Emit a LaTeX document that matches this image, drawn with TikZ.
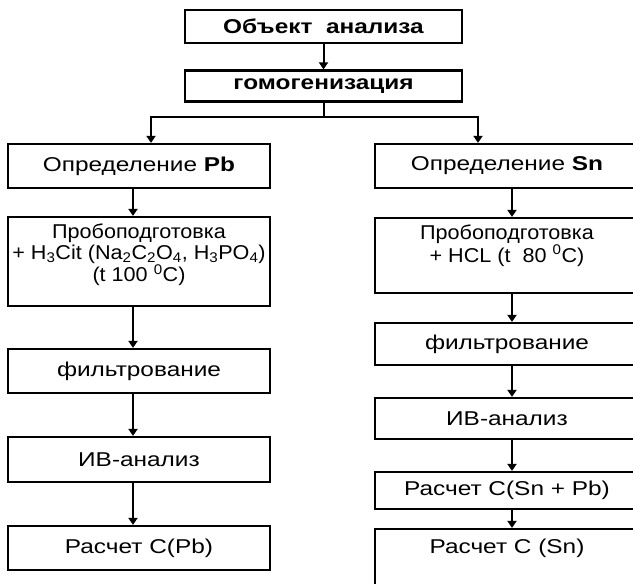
\documentclass[tikz,border=0pt]{standalone}
\usepackage{fontspec}
\setmainfont[FakeStretch=1.22]{Liberation Sans}
\newfontfamily\uzkij[FakeStretch=1.08]{Liberation Sans}
\usetikzlibrary{arrows.meta}

\begin{document}
\begin{tikzpicture}[x=1pt,y=-1pt]
\tikzset{blok/.style={draw, line width=2.2pt, rectangle, inner sep=0pt},
  tekst/.style={align=center, font=\fontsize{20}{20.5}\selectfont, inner sep=0pt},
  uzk/.style={font=\uzkij\fontsize{20}{20.5}\selectfont},
  zagl/.style={font=\fontsize{20}{22}\selectfont\bfseries},
  levo/.style={minimum width=262pt},
  pravo/.style={minimum width=264pt},
  strelka/.style={line width=2pt, -{Triangle[width=9pt,length=7pt]}}}
\useasboundingbox (0,0) rectangle (633,584);
\clip (0,0) rectangle (633,584);
\node[blok, tekst, zagl, minimum width=277pt, minimum height=33pt] (obj) at (323.5,26.5) {Объект\ \ анализа};
\node[blok, tekst, zagl, minimum width=277pt, minimum height=31pt] (hom) at (323.5,86) {гомогенизация};
\node[blok, tekst, levo, minimum height=44pt] (detPb) at (139,166) {Определение \textbf{Pb}};
\node[blok, levo, minimum height=89pt] (prepPb) at (139,261.5) {};
\node[tekst, uzk, anchor=north] (prepPbT) at ([yshift=-8pt]prepPb.north) {Пробоподготовка\\+ H\textsubscript{3}Cit (Na\textsubscript{2}C\textsubscript{2}O\textsubscript{4}, H\textsubscript{3}PO\textsubscript{4})\\(t 100 \textsuperscript{0}C)};
\node[blok, tekst, levo, minimum height=44pt] (filtPb) at (139,371) {фильтрование};
\node[blok, tekst, levo, minimum height=45pt] (ivPb) at (139,459.5) {ИВ-анализ};
\node[blok, tekst, levo, minimum height=44pt] (calcPb) at (139,548) {Расчет C(Pb)};
\node[blok, tekst, pravo, minimum height=44pt] (detSn) at (507,166) {Определение \textbf{Sn}};
\node[blok, pravo, minimum height=75pt] (prepSn) at (507,255.5) {};
\node[tekst, uzk, anchor=north] (prepSnT) at ([yshift=-8pt]prepSn.north) {Пробоподготовка\\+ HCL (t\ \ 80 \textsuperscript{0}C)};
\node[blok, tekst, pravo, minimum height=42pt] (filtSn) at (507,344) {фильтрование};
\node[blok, tekst, pravo, minimum height=41pt] (ivSn) at (507,418.5) {ИВ-анализ};
\node[blok, tekst, pravo, minimum height=37pt] (sumSn) at (507,490.5) {Расчет C(Sn + Pb)};
\node[blok, pravo, minimum height=71pt] (calcSn) at (507,564.5) {};
\node[tekst, anchor=north] (calcSnT) at ([yshift=-11pt]calcSn.north) {Расчет C (Sn)};
\draw[strelka] (obj) -- (hom);
\draw[line width=2pt] (hom.south) -- ++(0,14) coordinate (razv);
\draw[strelka] (razv) -| ([xshift=12pt]detPb.north);
\draw[strelka] (razv) -| ([xshift=-29pt]detSn.north);
\draw[strelka] ([xshift=-6pt]detPb.south) -- ([xshift=-6pt]prepPb.north);
\draw[strelka] ([xshift=-6pt]prepPb.south) -- ([xshift=-6pt]filtPb.north);
\draw[strelka] ([xshift=-6pt]filtPb.south) -- ([xshift=-6pt]ivPb.north);
\draw[strelka] ([xshift=-6pt]ivPb.south) -- ([xshift=-6pt]calcPb.north);
\draw[strelka] ([xshift=5pt]detSn.south) -- ([xshift=5pt]prepSn.north);
\draw[strelka] ([xshift=5pt]prepSn.south) -- ([xshift=5pt]filtSn.north);
\draw[strelka] ([xshift=5pt]filtSn.south) -- ([xshift=5pt]ivSn.north);
\draw[strelka] ([xshift=5pt]ivSn.south) -- ([xshift=5pt]sumSn.north);
\draw[strelka] ([xshift=5pt]sumSn.south) -- ([xshift=5pt]calcSn.north);
\end{tikzpicture}
\end{document}
